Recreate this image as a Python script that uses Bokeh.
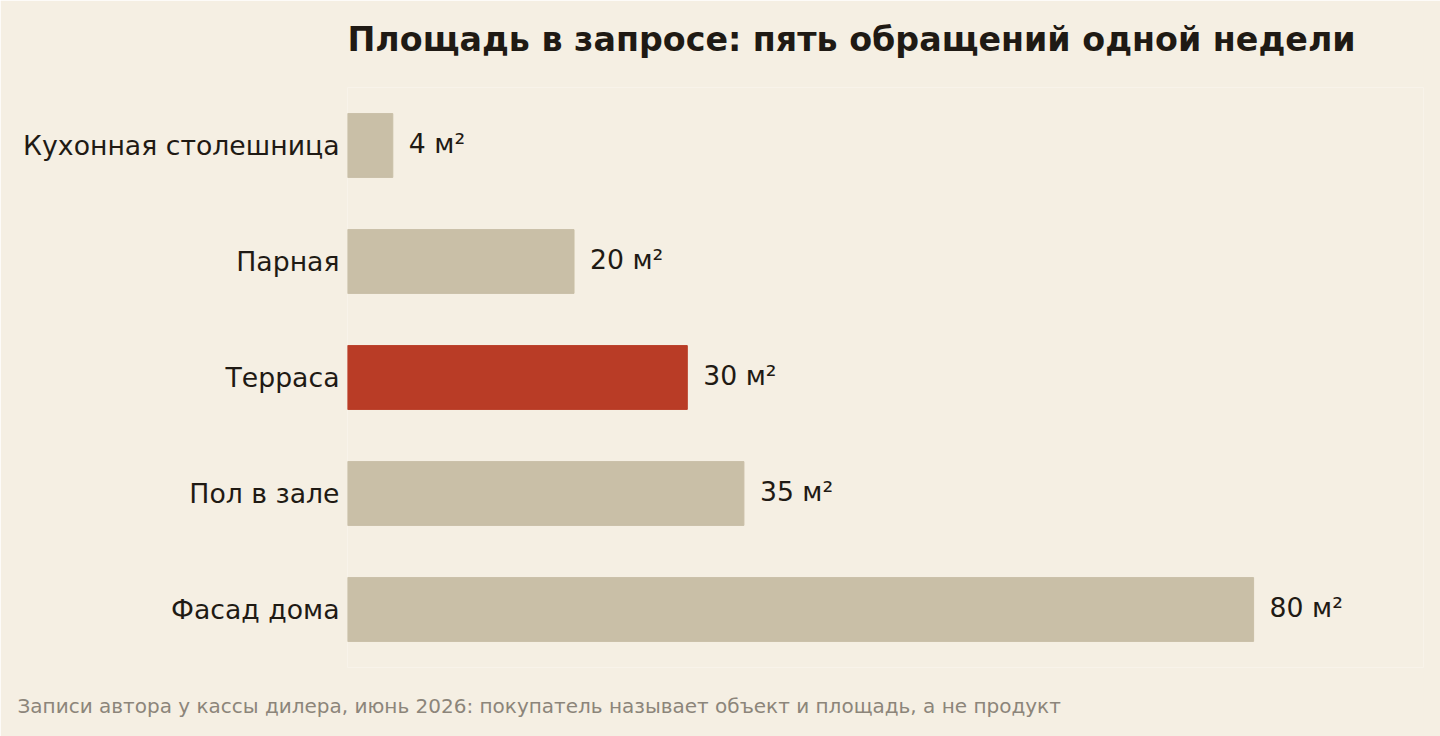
from bokeh.core.properties import value
from bokeh.embed import file_html
from bokeh.models import ColumnDataSource, FactorRange, Range1d, Title
from bokeh.plotting import figure
from bokeh.resources import INLINE

# данные
categories = ["Кухонная столешница", "Парная", "Терраса", "Пол в зале", "Фасад дома"]
areas = [4, 20, 30, 35, 80]
highlight = "Терраса"

title_text = "Площадь в запросе: пять обращений одной недели"
note_text = "Записи автора у кассы дилера, июнь 2026: покупатель называет объект и площадь, а не продукт"

BG = "#f5efe3"
BAR = "#c9bfa7"
RED = "#b93c26"
INK = "#1f1a14"
FONT = "DejaVu Sans"

source = ColumnDataSource(data=dict(
    cat=categories,
    area=areas,
    label=[f"{a} м²" for a in areas],
    color=[RED if c == highlight else BAR for c in categories],
))

p = figure(
    width=1440, height=736,
    y_range=FactorRange(factors=list(reversed(categories)), range_padding=0),
    x_range=Range1d(0, 95),
    x_axis_location=None,
    toolbar_location=None,
    output_backend="svg",
    min_border_left=347, min_border_right=17,
    min_border_top=87, min_border_bottom=69,
)
p.background_fill_color = BG
p.border_fill_color = BG
p.outline_line_color = None
p.grid.grid_line_color = None

p.hbar(y="cat", left=0, right="area", height=0.55, color="color", source=source)
p.text(x="area", y="cat", text="label", source=source, x_offset=16, y_offset=-2,
       text_baseline="middle", text_align="left", text_color=INK,
       text_font=value(FONT), text_font_size="26.7px")

ax = p.yaxis[0]
ax.axis_line_color = None
ax.major_tick_line_color = None
ax.minor_tick_line_color = None
ax.major_tick_out = 0
ax.major_tick_in = 0
ax.major_label_standoff = 8
ax.major_label_text_font = FONT
ax.major_label_text_font_size = "26.7px"
ax.major_label_text_color = INK

# заголовок и подпись; точки цвета фона служат отступом от рамки
p.add_layout(Title(text=".", text_font_size="2px", text_color=BG, standoff=24), "above")
p.add_layout(Title(text=title_text, align="left", text_font=FONT, text_font_size="33.3px",
                   text_font_style="bold", text_color=INK, standoff=4), "above")
p.add_layout(Title(text=".", text_font_size="2px", text_color=BG, standoff=21), "below")
p.add_layout(Title(text=note_text, align="left", offset=-330, text_font=FONT,
                   text_font_size="20px", text_font_style="normal",
                   text_color="#8c857a", standoff=0), "below")

open("out.html", "w").write(file_html(p, INLINE))
